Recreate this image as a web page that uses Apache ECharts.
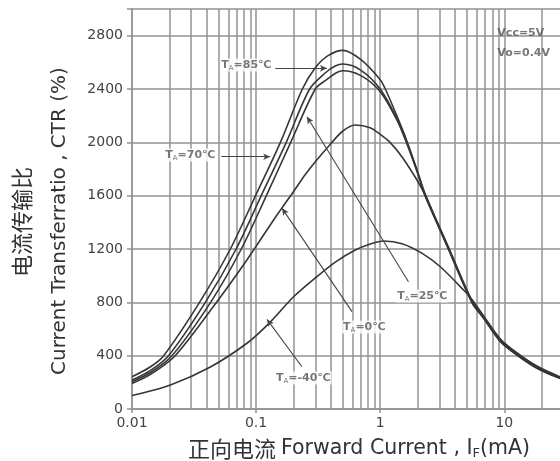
<!DOCTYPE html>
<html><head><meta charset="utf-8">
<script src="https://cdn.jsdelivr.net/npm/echarts@6/dist/echarts.min.js"></script>
<style>html,body{margin:0;padding:0;background:#fff}#c{width:560px;height:461px}</style>
</head><body><div id="c"></div>
<script>
// ---- axis values ----
const xMin = 0.01, xMax = 100;
const yMin = 0, yMax = 3000, yStep = 400;
const minorCurrents = [0.02,0.03,0.04,0.05,0.06,0.07,0.08,0.09,
  0.2,0.3,0.4,0.5,0.6,0.7,0.8,0.9, 2,3,4,5,6,7,8,9, 20,30,40,50,60,70,80,90];

// ---- curves: [forward current mA, CTR %] ----
const ctr70 = [[0.01,242],[0.014,315],[0.018,400],[0.035,800],[0.062,1200],[0.099,1600],[0.157,2000],
  [0.236,2400],[0.3,2560],[0.38,2650],[0.5,2690],[0.7,2620],[1.0,2470],[1.1,2400],[1.36,2200],
  [1.64,2010],[2.0,1780],[2.31,1610],[3.56,1210],[5.5,810],[6.8,692],[9.3,517],[12.6,417],
  [18.3,317],[28,238],[40,190]];
const ctr85 = [[0.01,217],[0.014,288],[0.0197,400],[0.039,800],[0.069,1200],[0.11,1600],[0.175,2000],
  [0.27,2400],[0.36,2520],[0.43,2570],[0.5,2587],[0.7,2540],[1.0,2400],[1.36,2180],
  [1.64,2000],[2.0,1775],[2.31,1600],[3.56,1205],[5.5,805],[6.8,688],[9.3,513],[12.6,413],
  [18.3,313],[28,235],[40,188]];
const ctr25 = [[0.01,205],[0.014,272],[0.021,400],[0.043,800],[0.076,1200],[0.121,1600],[0.19,2000],
  [0.3,2400],[0.37,2470],[0.44,2520],[0.5,2537],[0.7,2500],[1.0,2380],[1.36,2170],
  [1.64,1990],[2.0,1770],[2.31,1595],[3.56,1200],[5.5,800],[6.8,684],[9.3,509],[12.6,409],
  [18.3,309],[28,232],[40,186]];
const ctr0 = [[0.01,192],[0.014,258],[0.0223,400],[0.048,800],[0.07,1010],[0.092,1170],[0.13,1380],
  [0.162,1510],[0.2,1630],[0.25,1760],[0.3,1855],[0.4,1990],[0.5,2085],[0.63,2130],[0.83,2110],
  [1.0,2060],[1.2,2000],[1.5,1890],[2.0,1710],[2.31,1600],[3.56,1195],[5.5,796],[6.8,680],
  [9.3,505],[12.6,405],[18.3,306],[28,230],[40,184]];
const ctrMinus40 = [[0.01,101],[0.0204,180],[0.0428,315],[0.0849,495],[0.13,652],[0.1995,840],
  [0.3,983],[0.435,1102],[0.63,1192],[0.832,1237],[1.06,1260],[1.5,1240],[2.18,1167],[3.05,1067],
  [4.7,892],[5.5,820],[6.8,700],[9.3,525],[12.6,422],[18.3,322],[28,242],[40,192]];

// ---- annotations (data coordinates) ----
const tempNames = ['85','70','25','0','-40'];
const tempLabelAt = [[0.0834,2580],[0.0295,1905],[2.18,847],[0.745,615],[0.240,232]];
const pointerFrom = [[0.143,2555],[0.0525,1892],[1.69,955],[0.593,730],[0.234,317]];
const pointerTo = [[0.372,2555],[0.130,1892],[0.257,2192],[0.162,1505],[0.1225,672]];
const condTexts = ['Vcc=5V','Vo=0.4V'];
const condAt = [[8.79,2820],[8.79,2670]];

const GRID = '#939393';
const CURVE = '#363636';
const FONT = '"DejaVu Sans", "Noto Sans CJK SC", sans-serif';

const chart = echarts.init(document.getElementById('c'), null, {renderer:'canvas'});

function curve(name, data) {
  return {name, type:'line', data, smooth:0.3, showSymbol:false, symbol:'none', silent:true,
    z:3, lineStyle:{color:CURVE, width:1.6}, emphasis:{disabled:true}};
}

const series = [
  {type:'line', data:[[xMin,0]], symbol:'none', silent:true, lineStyle:{opacity:0}, z:1,
    markLine:{silent:true, symbol:['none','none'], z:1, animation:false,
      label:{show:false}, lineStyle:{color:GRID, width:1.5, type:'solid'},
      emphasis:{disabled:true},
      data: minorCurrents.map(v => ({xAxis:v}))}},
  curve('70', ctr70), curve('85', ctr85), curve('25', ctr25), curve('0', ctr0), curve('-40', ctrMinus40),
  {type:'line', data:[[xMin,0]], symbol:'none', silent:true, lineStyle:{opacity:0}, z:4,
    markLine:{silent:true, z:4, animation:false, symbol:['none','arrow'], symbolSize:[5,7],
      label:{show:false}, lineStyle:{color:'#444', width:1.1, type:'solid'},
      emphasis:{disabled:true},
      data: pointerFrom.map((p,i) => [{coord:p},{coord:pointerTo[i]}])}},
  {type:'scatter', symbolSize:0, silent:true, z:6,
    data: tempLabelAt.map((p,i) => ({value:p, name:tempNames[i]})),
    label:{show:true, position:'inside', color:'#555', fontFamily:FONT,
      backgroundColor:'#fff', padding:[0,1],
      formatter: p => '{t|T}{s|A}{t|=' + p.name + '℃}',
      rich:{t:{fontSize:11, fontFamily:FONT, color:'#555', fontWeight:'bold'},
            s:{fontSize:7, fontFamily:FONT, color:'#555', padding:[6,0,0,0]}}}},
  {type:'scatter', symbolSize:0, silent:true, z:6,
    data: condAt.map((p,i) => ({value:p, name:condTexts[i]})),
    label:{show:true, position:'right', distance:0, color:'#555', fontFamily:FONT,
      fontSize:11, fontWeight:'bold', formatter: p => p.name}}
];

chart.setOption({
  animation:false,
  backgroundColor:'#fff',
  grid:{left:132, top:9, height:400, width:496.4, containLabel:false, outerBoundsMode:'none'},
  xAxis:{type:'log', logBase:10, min:xMin, max:xMax,
    axisLine:{show:true, lineStyle:{color:GRID, width:1.5}},
    axisTick:{show:true, length:4, lineStyle:{color:GRID, width:1.5}},
    splitLine:{show:true, lineStyle:{color:GRID, width:1.5}},
    axisLabel:{color:'#444', fontSize:14, fontFamily:FONT, margin:7,
      formatter: v => String(Number(v.toPrecision(3)))}},
  yAxis:{type:'value', min:yMin, max:yMax, interval:yStep,
    axisLine:{show:true, lineStyle:{color:GRID, width:1.5}},
    axisTick:{show:true, length:5, lineStyle:{color:GRID, width:1.5}},
    splitLine:{show:true, lineStyle:{color:GRID, width:1.5}},
    axisLabel:{color:'#444', fontSize:14, fontFamily:FONT, margin:9,
      formatter: v => v >= yMax ? '' : String(v)}},
  graphic:[
    {type:'text', x:22, y:222, rotation:Math.PI/2, silent:true,
      style:{text:'电流传输比', font:'22px "Noto Sans CJK SC"', fill:'#333', align:'center', verticalAlign:'middle'}},
    {type:'text', x:60, y:221, rotation:Math.PI/2, silent:true,
      style:{text:'Current Transferratio , CTR (%)', font:'20px "DejaVu Sans"', fill:'#333', align:'center', verticalAlign:'middle'}},
    {type:'text', x:188, y:449, silent:true,
      style:{text:'{c|正向电流 }{e|Forward Current , I}{s|F}{e|(mA)}', align:'left', verticalAlign:'middle',
        rich:{c:{font:'22px "Noto Sans CJK SC"', fill:'#333'},
              e:{font:'20.5px "DejaVu Sans"', fill:'#333'},
              s:{font:'13px "DejaVu Sans"', fill:'#333', padding:[9,0,0,0]}}}}
  ],
  series
});
</script></body></html>
